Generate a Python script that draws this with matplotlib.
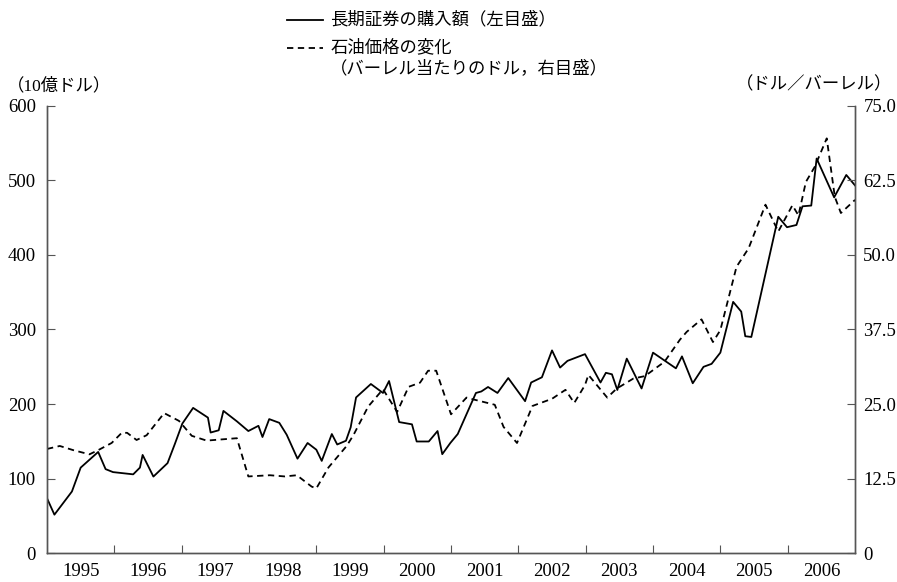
import matplotlib.pyplot as plt
from matplotlib.lines import Line2D
import numpy as np

plt.rcParams['font.family'] = ['Liberation Serif', 'Noto Sans CJK JP']

# 長期証券の購入額 (10億ドル, 左目盛)
t_sec = [1995.00, 1995.11, 1995.37, 1995.50, 1995.76, 1995.87, 1995.98, 1996.28, 1996.38, 1996.42,
         1996.58, 1996.79, 1996.90, 1997.01, 1997.17, 1997.39, 1997.43, 1997.55, 1997.62, 1997.82,
         1997.99, 1998.14, 1998.20, 1998.30, 1998.45, 1998.56, 1998.72, 1998.87, 1999.00, 1999.08,
         1999.23, 1999.31, 1999.44, 1999.51, 1999.59, 1999.81, 1999.99, 2000.08, 2000.23, 2000.42,
         2000.49, 2000.67, 2000.80, 2000.87, 2000.99, 2001.10, 2001.37, 2001.45, 2001.55, 2001.69,
         2001.85, 2002.10, 2002.19, 2002.35, 2002.50, 2002.62, 2002.73, 2002.99, 2003.22, 2003.30,
         2003.39, 2003.47, 2003.61, 2003.83, 2004.00, 2004.34, 2004.43, 2004.59, 2004.75, 2004.87,
         2005.00, 2005.19, 2005.31, 2005.37, 2005.46, 2005.86, 2005.99, 2006.13, 2006.22, 2006.35,
         2006.43, 2006.69, 2006.87, 2007.00]
securities = [74, 52, 83, 115, 136, 113, 109, 106, 115, 132,
              103, 121, 147, 174, 195, 182, 162, 165, 191, 177,
              164, 171, 156, 180, 175, 159, 127, 148, 139, 124,
              160, 146, 151, 169, 209, 227, 215, 231, 176, 173,
              150, 150, 164, 133, 148, 160, 215, 217, 223, 215,
              235, 204, 229, 236, 272, 249, 258, 267, 229, 242,
              240, 219, 261, 221, 269, 248, 264, 228, 250, 254,
              269, 337, 324, 291, 290, 451, 437, 440, 465, 466,
              529, 477, 507, 493]

# 石油価格 (ドル/バーレル, 右目盛)
t_oil = [1995.00, 1995.19, 1995.39, 1995.63, 1995.76, 1995.96, 1996.11, 1996.19, 1996.33, 1996.48,
         1996.74, 1996.96, 1997.15, 1997.37, 1997.82, 1997.99, 1998.31, 1998.53, 1998.71, 1998.93,
         1999.00, 1999.18, 1999.45, 1999.55, 1999.77, 1999.99, 2000.20, 2000.37, 2000.54, 2000.66,
         2000.78, 2001.00, 2001.23, 2001.33, 2001.65, 2001.78, 2001.98, 2002.21, 2002.50, 2002.70,
         2002.83, 2002.99, 2003.04, 2003.32, 2003.46, 2003.71, 2003.88, 2004.17, 2004.40, 2004.50,
         2004.72, 2004.89, 2005.00, 2005.24, 2005.42, 2005.67, 2005.86, 2006.07, 2006.16, 2006.27,
         2006.40, 2006.58, 2006.70, 2006.79, 2007.00]
oil = [17.5, 18.0, 17.3, 16.6, 17.3, 18.5, 20.2, 20.2, 19.0, 19.8,
       23.5, 22.2, 19.7, 18.9, 19.3, 12.9, 13.1, 12.9, 13.1, 11.2,
       10.9, 14.4, 18.0, 19.8, 24.6, 27.5, 23.7, 27.9, 28.6, 30.6,
       30.6, 23.3, 26.1, 25.8, 24.9, 21.2, 18.5, 24.7, 25.9, 27.4,
       25.2, 28.2, 29.9, 26.1, 27.6, 29.3, 29.7, 32.1, 35.8, 37.1,
       39.2, 35.4, 37.4, 48.0, 51.1, 58.4, 53.9, 58.3, 56.6, 62.2,
       64.7, 69.5, 59.7, 57.0, 59.2]

years = list(range(1995, 2007))
left_ticks = [0, 100, 200, 300, 400, 500, 600]
right_ticks = [0, 12.5, 25.0, 37.5, 50.0, 62.5, 75.0]
right_labels = ['0', '12.5', '25.0', '37.5', '50.0', '62.5', '75.0']

fig = plt.figure(figsize=(8.97, 5.82), dpi=100)
ax = fig.add_axes([0.0524, 0.049, 0.9008, 0.7697])
ax2 = ax.twinx()

ax.plot(t_sec, securities, color='black', lw=1.3)
ax2.plot(t_oil, oil, color='black', lw=1.3, linestyle=(0, (3.5, 2.5)))

ax.set_xlim(1995, 2007)
ax.set_ylim(0, 600)
ax2.set_ylim(0, 75)

spine_col = '#555555'
for a in (ax, ax2):
    a.spines['top'].set_visible(False)
    for s in ('left', 'right', 'bottom'):
        a.spines[s].set_color(spine_col)
        a.spines[s].set_linewidth(1.0)

ax.set_yticks(left_ticks)
ax.set_yticklabels([str(v) for v in left_ticks])
ax2.set_yticks(right_ticks)
ax2.set_yticklabels(right_labels)
ax.tick_params(axis='y', direction='in', length=6, color=spine_col, labelsize=13.5, pad=8)
ax2.tick_params(axis='y', direction='in', length=6, color=spine_col, labelsize=13.5, pad=6)

ax.set_xticks(years[1:])
ax.set_xticklabels([])
ax.set_xticks([y + 0.5 for y in years], minor=True)
ax.set_xticklabels([str(y) for y in years], minor=True)
ax.tick_params(axis='x', which='major', direction='in', length=6, color=spine_col)
ax.tick_params(axis='x', which='minor', length=0, labelsize=13.5, pad=7)

fig.text(0.008, 0.853, '（10億ドル）', fontsize=12.5, ha='left', va='center')
fig.text(0.995, 0.853, '（ドル／バーレル）', fontsize=12.5, ha='right', va='center')

# legend
fig.add_artist(Line2D([0.320, 0.360], [0.965, 0.965], color='black', lw=1.3))
fig.add_artist(Line2D([0.320, 0.360], [0.917, 0.917], color='black', lw=1.3,
                      linestyle=(0, (3.5, 2.5))))
fig.text(0.368, 0.965, '長期証券の購入額（左目盛）', fontsize=12.5, ha='left', va='center')
fig.text(0.368, 0.917, '石油価格の変化', fontsize=12.5, ha='left', va='center')
fig.text(0.368, 0.882, '（バーレル当たりのドル，右目盛）', fontsize=12.5, ha='left', va='center')

fig.savefig('out.png', dpi=100)
